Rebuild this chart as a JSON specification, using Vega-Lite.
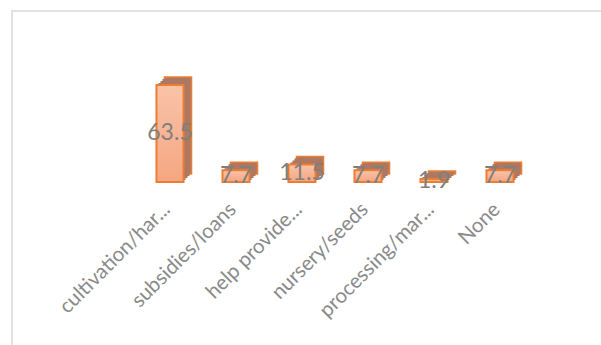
{
  "$schema": "https://vega.github.io/schema/vega-lite/v6.json",
  "autosize": "none",
  "width": 590,
  "height": 335,
  "padding": {"left": 12, "top": 11, "right": -1, "bottom": -1},
  "background": "white",
  "config": {"view": {"stroke": "#d9d9d9", "strokeWidth": 1.5}},
  "data": {
    "values": [
      {"cat": "cultivation/har...", "v": 63.5},
      {"cat": "subsidies/loans", "v": 7.7},
      {"cat": "help provide...", "v": 11.5},
      {"cat": "nursery/seeds", "v": 7.7},
      {"cat": "processing/mar...", "v": 1.9},
      {"cat": "None", "v": 7.7}
    ]
  },
  "encoding": {
    "x": {
      "field": "cat",
      "type": "nominal",
      "sort": null,
      "scale": {"range": [125, 521], "paddingInner": 0.59, "paddingOuter": 0.295},
      "axis": {
        "title": null,
        "orient": "bottom",
        "offset": -164,
        "domain": false,
        "ticks": false,
        "tickSize": 0,
        "labelPadding": 24,
        "labelOffset": -3,
        "labelAngle": -45,
        "labelAlign": "right",
        "labelBaseline": "middle",
        "labelFont": "Lato",
        "labelFontSize": 20.5,
        "labelColor": "#8a8a8a",
        "labelLimit": 300
      }
    }
  },
  "layer": [
    {
      "mark": {"type": "bar", "fill": "#ad7862", "stroke": "#ed7d31", "strokeWidth": 1.5, "xOffset": 8, "x2Offset": 8, "yOffset": -8, "y2Offset": -8},
      "encoding": {"y": {"field": "v", "type": "quantitative", "scale": {"domain": [0, 70], "range": [171, 64]}, "axis": null}}
    },
    {
      "mark": {"type": "bar", "fill": "#ad7862", "xOffset": 6, "x2Offset": 6, "yOffset": -6, "y2Offset": -6},
      "encoding": {"y": {"field": "v", "type": "quantitative", "scale": {"domain": [0, 70], "range": [171, 64]}, "axis": null}}
    },
    {
      "mark": {"type": "bar", "fill": "#ad7862", "xOffset": 4, "x2Offset": 4, "yOffset": -4, "y2Offset": -4},
      "encoding": {"y": {"field": "v", "type": "quantitative", "scale": {"domain": [0, 70], "range": [171, 64]}, "axis": null}}
    },
    {
      "mark": {"type": "bar", "fill": "#ad7862", "xOffset": 2, "x2Offset": 2, "yOffset": -2, "y2Offset": -2},
      "encoding": {"y": {"field": "v", "type": "quantitative", "scale": {"domain": [0, 70], "range": [171, 64]}, "axis": null}}
    },
    {
      "mark": {
        "type": "bar",
        "stroke": "#ed7d31",
        "strokeWidth": 2,
        "fill": {"gradient": "linear", "x1": 0, "y1": 0, "x2": 0, "y2": 1, "stops": [{"offset": 0, "color": "#f9c3a8"}, {"offset": 1, "color": "#f5a682"}]}
      },
      "encoding": {"y": {"field": "v", "type": "quantitative", "scale": {"domain": [0, 70], "range": [171, 64]}, "axis": null}}
    },
    {
      "mark": {"type": "text", "font": "Lato", "fontSize": 23, "color": "#7f7f7f", "baseline": "middle", "align": "center"},
      "encoding": {
        "y": {"field": "v", "type": "quantitative", "scale": {"domain": [0, 140], "range": [171, 64]}, "axis": null},
        "text": {"field": "v", "type": "quantitative", "format": ".1f"}
      }
    }
  ],
  "resolve": {"scale": {"y": "independent"}}
}
